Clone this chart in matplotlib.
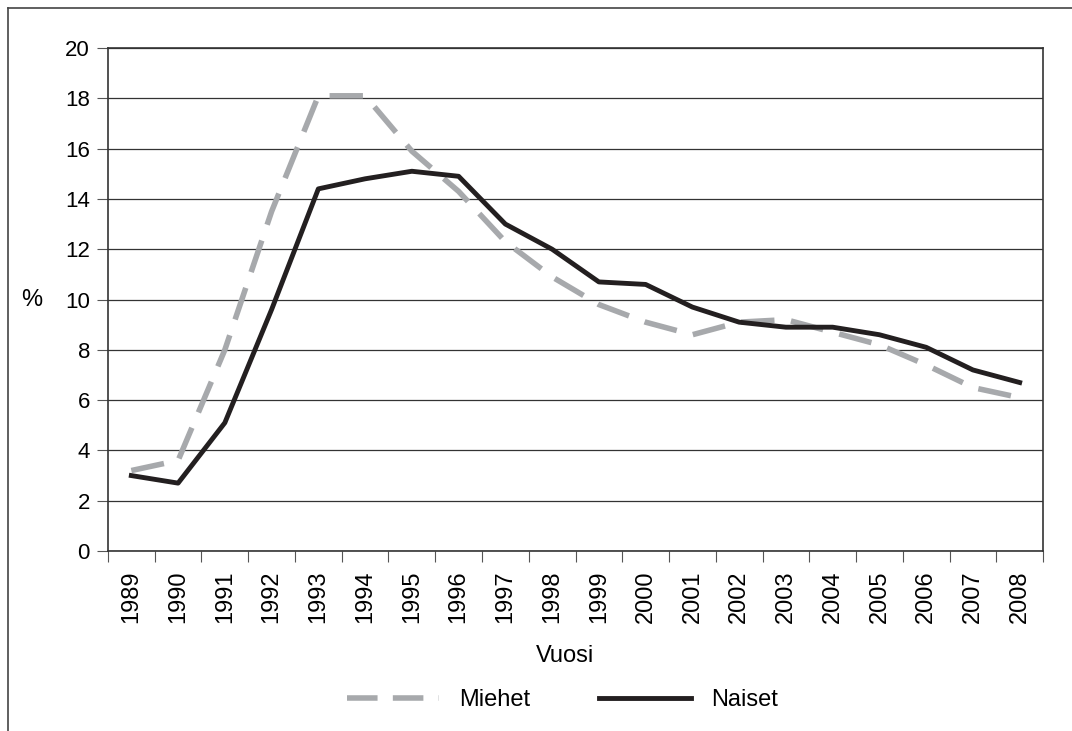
import matplotlib.pyplot as plt
from matplotlib.lines import Line2D

plt.rcParams['font.family'] = ['Liberation Sans', 'DejaVu Sans']

years = [str(y) for y in range(1989, 2009)]
miehet = [3.2, 3.6, 8.0, 13.5, 18.1, 18.1, 15.9, 14.3, 12.3, 10.9,
          9.8, 9.1, 8.6, 9.1, 9.2, 8.7, 8.2, 7.4, 6.5, 6.1]
naiset = [3.0, 2.7, 5.1, 9.6, 14.4, 14.8, 15.1, 14.9, 13.0, 12.0,
          10.7, 10.6, 9.7, 9.1, 8.9, 8.9, 8.6, 8.1, 7.2, 6.7]

fig = plt.figure(figsize=(10.72, 7.31), dpi=100)
ax = fig.add_axes([0.1007, 0.2462, 0.8723, 0.6881])

x = list(range(len(years)))
ax.plot(x, miehet, color='#a7a9ac', lw=4, dashes=(6, 3), label='Miehet')
ax.plot(x, naiset, color='#231f20', lw=3.5, label='Naiset')

ax.set_xlim(-0.5, len(years) - 0.5)
ax.set_ylim(0, 20)
ax.set_yticks(range(0, 21, 2))
ax.tick_params(axis='y', labelsize=16, length=8, width=0.8, color='#555555', pad=5)
ax.set_xticks([i - 0.5 for i in range(len(years) + 1)])
ax.set_xticklabels([])
ax.set_xticks(x, minor=True)
ax.set_xticklabels(years, minor=True, rotation=90, fontsize=17)
ax.tick_params(axis='x', which='major', length=8, width=0.8, color='#555555')
ax.tick_params(axis='x', which='minor', length=0, pad=14)
ax.yaxis.grid(True, color='#333333', lw=0.9)
ax.set_axisbelow(True)
for s in ax.spines.values():
    s.set_color('#333333')
    s.set_linewidth(1.2)

fig.text(0.030, 1 - 300 / 731, '%', fontsize=17, ha='center', va='center')
fig.text(0.527, 1 - 656 / 731, 'Vuosi', fontsize=17, ha='center', va='center')

leg = fig.legend(loc='center', bbox_to_anchor=(0.525, 1 - 700 / 731), ncol=2,
                 frameon=False, fontsize=17, handlelength=3.9, handletextpad=0.85,
                 columnspacing=2.9)
leg.get_lines()[0].set_dashes((5.5, 2.75))

# border of the original frame (top and left only)
fig.add_artist(Line2D([8 / 1072, 1], [1 - 8 / 731, 1 - 8 / 731], color='#444444', lw=1.2))
fig.add_artist(Line2D([8 / 1072, 8 / 1072], [0, 1 - 8 / 731], color='#444444', lw=1.2))

fig.savefig('out.png', dpi=100)
